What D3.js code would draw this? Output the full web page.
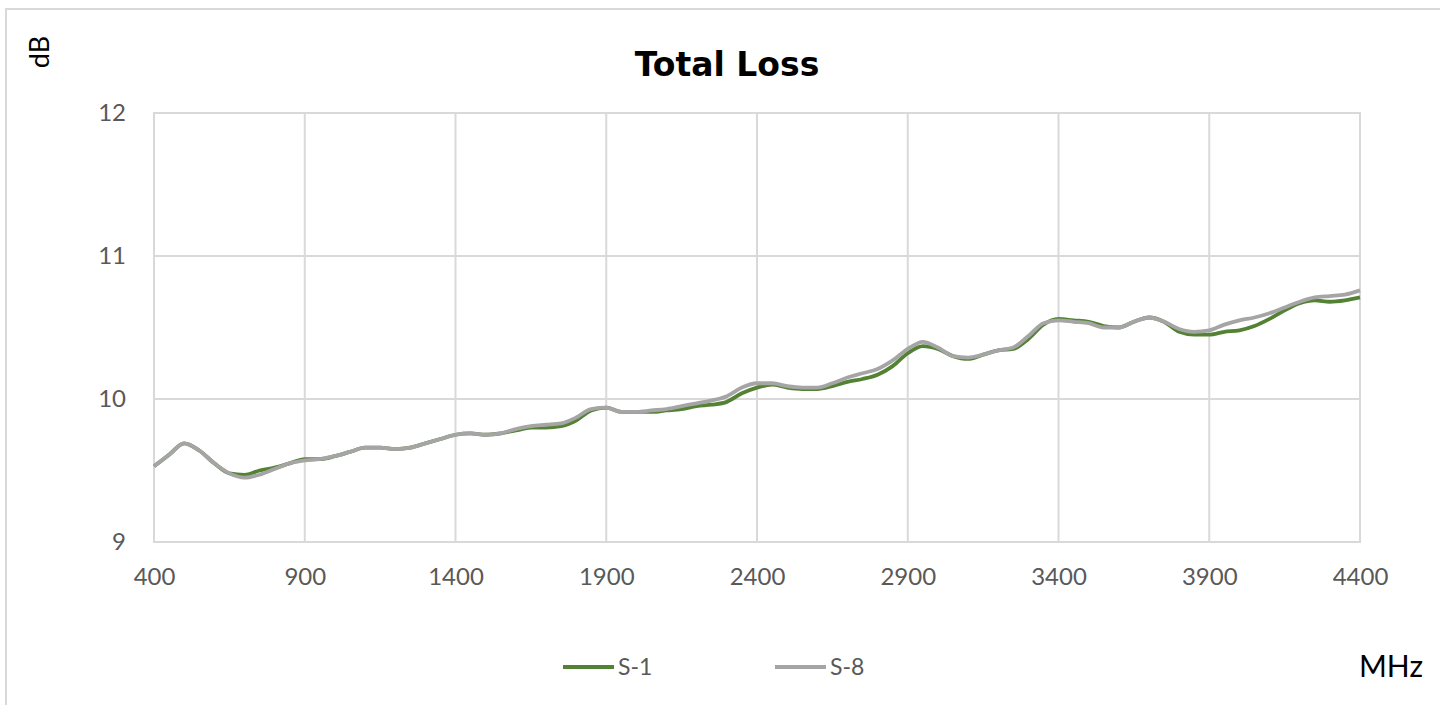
<!DOCTYPE html>
<html><head><meta charset="utf-8">
<script src="https://cdn.jsdelivr.net/npm/d3@7"></script>
<style>html,body{margin:0;padding:0;background:#fff;overflow:hidden}</style>
</head><body>
<svg id="c" width="1440" height="705"></svg>
<script>
const freq = [400,450,500,550,600,650,700,750,800,850,900,950,1000,1050,1100,1150,1200,1250,1300,1350,1400,1450,1500,1550,1600,1650,1700,1750,1800,1850,1900,1950,2000,2050,2100,2150,2200,2250,2300,2350,2400,2450,2500,2550,2600,2650,2700,2750,2800,2850,2900,2950,3000,3050,3100,3150,3200,3250,3300,3350,3400,3450,3500,3550,3600,3650,3700,3750,3800,3850,3900,3950,4000,4050,4100,4150,4200,4250,4300,4350,4400];
const s8 = [9.53,9.61,9.69,9.64,9.55,9.48,9.45,9.47,9.51,9.55,9.57,9.58,9.60,9.63,9.66,9.66,9.65,9.66,9.69,9.72,9.75,9.76,9.75,9.76,9.79,9.81,9.82,9.83,9.87,9.93,9.94,9.91,9.91,9.92,9.93,9.95,9.97,9.99,10.02,10.08,10.11,10.11,10.09,10.08,10.08,10.11,10.15,10.18,10.21,10.27,10.35,10.40,10.36,10.30,10.29,10.31,10.34,10.36,10.44,10.53,10.55,10.54,10.53,10.50,10.50,10.54,10.57,10.54,10.49,10.47,10.48,10.52,10.55,10.57,10.60,10.64,10.68,10.71,10.72,10.73,10.76];
const s1 = [9.53,9.61,9.69,9.64,9.55,9.48,9.47,9.50,9.52,9.55,9.58,9.58,9.60,9.63,9.66,9.66,9.65,9.66,9.69,9.72,9.75,9.76,9.75,9.76,9.78,9.80,9.80,9.81,9.85,9.92,9.94,9.91,9.91,9.91,9.92,9.93,9.95,9.96,9.98,10.04,10.08,10.10,10.08,10.07,10.07,10.09,10.12,10.14,10.17,10.23,10.32,10.37,10.35,10.30,10.28,10.31,10.34,10.35,10.42,10.52,10.56,10.55,10.54,10.51,10.50,10.54,10.57,10.54,10.47,10.45,10.45,10.47,10.48,10.51,10.56,10.62,10.67,10.69,10.68,10.69,10.71];
const xTicks = [400,900,1400,1900,2400,2900,3400,3900,4400];
const yTicks = [9,10,11,12];
const seriesNames = ["S-1","S-8"];
const seriesColors = ["#548235","#a5a5a5"];

const svg = d3.select("#c");
const tickFont = "Lato, 'Open Sans', sans-serif";
// outer frame
svg.append("rect").attr("x",6).attr("y",9).attr("width",1460).attr("height",720)
  .attr("fill","none").attr("stroke","#d9d9d9").attr("stroke-width",2);

const x = d3.scaleLinear().domain([400,4400]).range([154,1360]);
const y = d3.scaleLinear().domain([9,12]).range([542,113]);

// grid
svg.append("g").selectAll("line").data(xTicks).join("line")
  .attr("x1",d=>x(d)).attr("x2",d=>x(d)).attr("y1",y(12)).attr("y2",y(9))
  .attr("stroke","#d9d9d9").attr("stroke-width",2);
svg.append("g").selectAll("line").data(yTicks).join("line")
  .attr("x1",x(400)-1).attr("x2",x(4400)+1).attr("y1",d=>y(d)).attr("y2",d=>y(d))
  .attr("stroke","#d9d9d9").attr("stroke-width",2);

// axes labels via d3 axes
const xAxis = svg.append("g").attr("transform",`translate(0,${y(9)})`)
  .call(d3.axisBottom(x).tickValues(xTicks).tickSize(0).tickPadding(26).tickFormat(d3.format("d")));
const yAxis = svg.append("g").attr("transform",`translate(${x(400)},0)`)
  .call(d3.axisLeft(y).tickValues(yTicks).tickSize(0).tickPadding(28).tickFormat(d3.format("d")));
[xAxis,yAxis].forEach(a=>{
  a.select(".domain").remove();
  a.selectAll("text").attr("fill","#595959").style("font-family",tickFont).style("font-size","24px");
});

// lines
const line = d3.line().x((d,i)=>x(freq[i])).y(d=>y(d)).curve(d3.curveMonotoneX);
[s1,s8].forEach((s,k)=>{
  svg.append("path").datum(s).attr("d",line).attr("fill","none")
    .attr("stroke",seriesColors[k]).attr("stroke-width",3.8).attr("stroke-linejoin","round");
});

// title
svg.append("text").attr("x",727).attr("y",76).attr("text-anchor","middle")
  .style("font-family","'DejaVu Sans', Verdana, sans-serif").style("font-weight","bold")
  .style("font-size","33px").attr("fill","#000").text("Total Loss");

// dB label
svg.append("text").attr("transform","translate(49,52) rotate(-90)").attr("text-anchor","middle")
  .style("font-family",tickFont).style("font-size","27px").attr("fill","#000").text("dB");

// MHz
svg.append("text").attr("x",1423).attr("y",677).attr("text-anchor","end")
  .style("font-family",tickFont).style("font-size","30px").attr("fill","#000").text("MHz");

// legend
const legX = [563,775];
seriesNames.forEach((n,k)=>{
  svg.append("line").attr("x1",legX[k]).attr("x2",legX[k]+51).attr("y1",667).attr("y2",667)
    .attr("stroke",seriesColors[k]).attr("stroke-width",3.8);
  svg.append("text").attr("x",legX[k]+55).attr("y",675)
    .style("font-family",tickFont).style("font-size","23px").attr("fill","#595959").text(n);
});
</script>
</body></html>
